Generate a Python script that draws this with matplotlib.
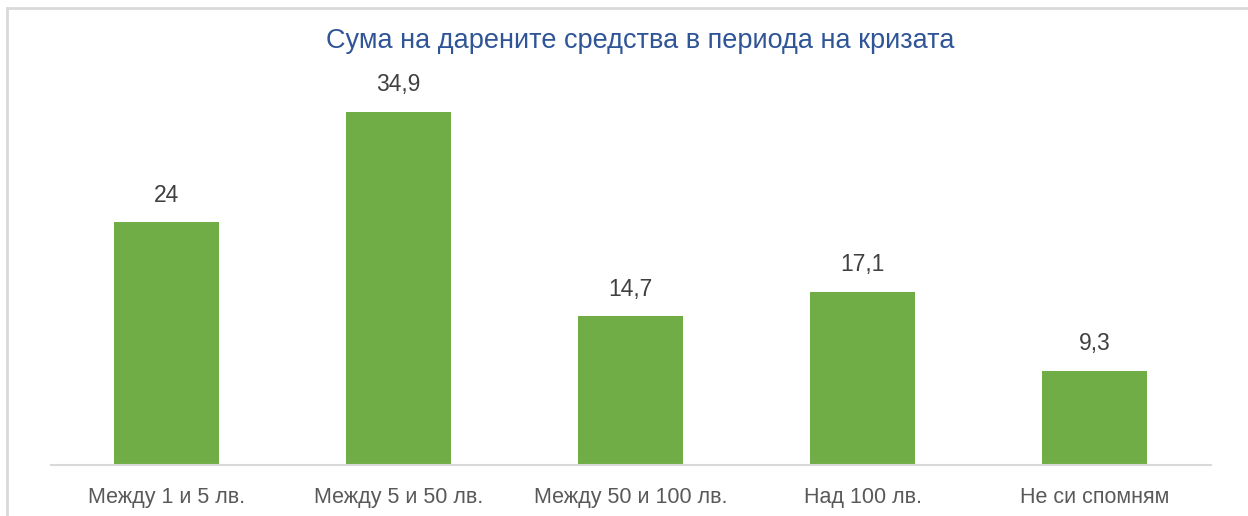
import matplotlib.pyplot as plt
from matplotlib.patches import Rectangle

# Data
categories = ['Между 1 и 5 лв.', 'Между 5 и 50 лв.', 'Между 50 и 100 лв.', 'Над 100 лв.', 'Не си спомням']
values = [24, 34.9, 14.7, 17.1, 9.3]
labels = ['24', '34,9', '14,7', '17,1', '9,3']
title = 'Сума на дарените средства в периода на кризата'

plt.rcParams['font.family'] = ['Liberation Sans Narrow', 'Liberation Sans', 'DejaVu Sans']

W, H = 1248, 516
fig = plt.figure(figsize=(W / 100, H / 100), dpi=100)

# chart border (light gray, runs off right/bottom edge)
fig.patches.append(Rectangle((7 / W, -0.1), 1.2, 1 - 8 / H + 0.1, transform=fig.transFigure,
                             fill=False, edgecolor='#D9D9D9', linewidth=2))

ax = fig.add_axes([50.5 / W, (H - 465) / H, 1160 / W, 404.8 / H])
x = range(len(categories))
ax.bar(x, values, width=0.45, color='#70AD47')
ax.set_xlim(-0.5, len(categories) - 0.5)
ax.set_ylim(0, 40)

for i, (v, lab) in enumerate(zip(values, labels)):
    ax.annotate(lab, (i, v), xytext=(0, 19.5), textcoords='offset points',
                ha='center', va='center', fontsize=16.5, color='#404040')

ax.set_xticks(list(x))
ax.set_xticklabels(categories, fontsize=15.5, color='#595959')
ax.tick_params(axis='x', length=0, pad=16)
ax.set_yticks([])
for s in ['top', 'right', 'left']:
    ax.spines[s].set_visible(False)
ax.spines['bottom'].set_color('#D9D9D9')
ax.spines['bottom'].set_linewidth(1.5)

fig.text(640 / W, 1 - 41 / H, title, ha='center', va='center',
         fontsize=19.5, color='#2F5597')

fig.savefig('out.png', dpi=100)
